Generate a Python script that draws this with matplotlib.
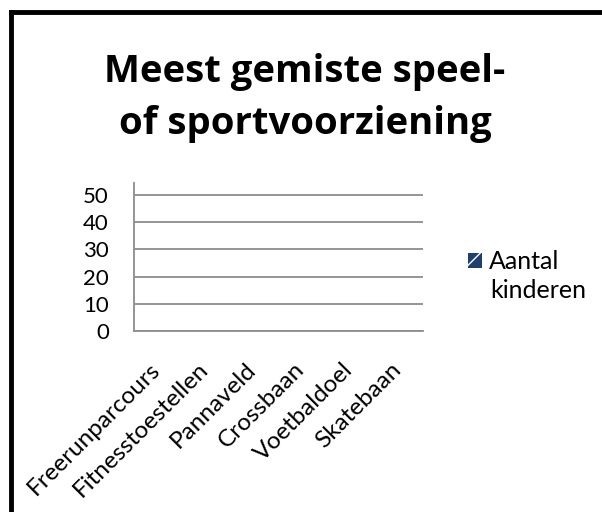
import matplotlib.pyplot as plt
import matplotlib.transforms as mtransforms
from matplotlib.lines import Line2D

plt.rcParams['font.family'] = ['Lato', 'DejaVu Sans']

# Gegevens
categorieen = ['Freerunparcours', 'Fitnesstoestellen', 'Pannaveld',
               'Crossbaan', 'Voetbaldoel', 'Skatebaan']
aantal_kinderen = [0, 0, 0, 0, 0, 0]
y_ticks = [0, 10, 20, 30, 40, 50]
titel = 'Meest gemiste speel-\nof sportvoorziening'
reeks_naam = ['Aantal', 'kinderen']

fig = plt.figure(figsize=(6.02, 5.12), dpi=100)
W, H = 602, 512

# kader (alleen boven en links zichtbaar)
fig.add_artist(Line2D([11 / W, 1], [1 - 12 / H, 1 - 12 / H], color='black', lw=3.5))
fig.add_artist(Line2D([11 / W, 11 / W], [0, 1 - 12 / H], color='black', lw=3.5))

fig.text(305 / W, 1 - 98 / H, titel, ha='center', va='center',
         fontsize=27.5, fontweight='bold', linespacing=1.5,
         family=['Open Sans', 'DejaVu Sans'])

ax = fig.add_axes([134 / W, 1 - 331 / H, (423 - 134) / W, (331 - 183) / H])
x = range(len(categorieen))
ax.bar(x, aantal_kinderen, width=0.6, color='#1F3F6E', hatch='/',
       edgecolor='white', linewidth=0, label=reeks_naam[0])
ax.set_xlim(-0.5, len(categorieen) - 0.5)
ax.set_ylim(0, 54.4)
ax.set_yticks(y_ticks)
ax.set_xticks(list(x))
ax.set_xticklabels(categorieen, rotation=45, ha='right', rotation_mode='anchor',
                   fontsize=17.5)
ax.tick_params(axis='y', labelsize=16, length=0, pad=18)
ax.tick_params(axis='x', length=0, pad=20)
# labels iets naar links schuiven
verschuiving = mtransforms.ScaledTranslation(-9 / 100, 0, fig.dpi_scale_trans)
for lbl in ax.get_xticklabels():
    lbl.set_transform(lbl.get_transform() + verschuiving)
ax.grid(axis='y', color='#8C8C8C', lw=1.3)
ax.set_axisbelow(True)
for s in ['top', 'right']:
    ax.spines[s].set_visible(False)
ax.spines['left'].set_color('#8C8C8C')
ax.spines['bottom'].set_color('#8C8C8C')
ax.spines['left'].set_linewidth(1.3)
ax.spines['bottom'].set_linewidth(1.3)

leg = fig.legend(loc='upper left', bbox_to_anchor=(468 / W, 1 - 250 / H),
                 frameon=False, fontsize=18, handlelength=0.55, handleheight=0.55,
                 handletextpad=0.3, borderaxespad=0, borderpad=0)
fig.text(490 / W, 1 - 298 / H, reeks_naam[1], fontsize=18, va='baseline')

fig.savefig('out.png', dpi=100)
